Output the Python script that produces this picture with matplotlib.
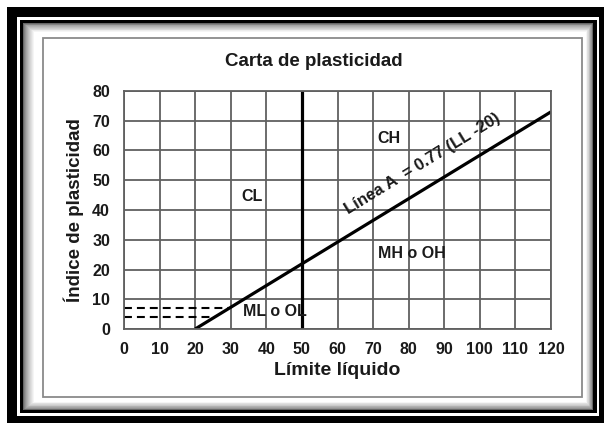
import matplotlib
matplotlib.use('Agg')
import matplotlib.pyplot as plt
import matplotlib.patches as mpatches
import numpy as np

# chart values
ll_ticks = list(range(0, 130, 10))
pi_ticks = list(range(0, 90, 10))
a_line_ll = [20, 120]
a_line_pi = [0, 73]
b_line_ll = [50, 50]
b_line_pi = [0, 80]
dash_pi = [4, 7]
zone_labels = ['CL', 'CH', 'MH o OH', 'ML o OL']
zone_ll = [36, 74.5, 81, 42.5]
zone_pi = [44.5, 64, 25.5, 6]

W, H = 604, 423
plt.rcParams['font.family'] = ['Liberation Sans', 'DejaVu Sans']
fig = plt.figure(figsize=(W / 100, H / 100), dpi=100)
fig.patch.set_facecolor('white')


def rect_px(x0, y0, x1, y1, **kw):
    # rectangle given in pixel coords (origin top-left)
    r = mpatches.Rectangle((x0 / W, 1 - y1 / H), (x1 - x0) / W, (y1 - y0) / H,
                           transform=fig.transFigure, zorder=-10, **kw)
    fig.patches.append(r)


# picture frame
rect_px(7, 7, 610, 430, facecolor='black', edgecolor='none')
rect_px(17, 17, 599, 416, facecolor='white', edgecolor='none')
rect_px(20, 20, 597, 413, facecolor='black', edgecolor='none')
n = 12
for i in range(n):
    t = i / (n - 1)
    g = 0.4 + 0.6 * t ** 0.7
    rect_px(23 + 11 * t, 23 + 9 * t, 593 - 7 * t, 410 - 8 * t,
            facecolor=(g, g, g), edgecolor='none')
rect_px(43, 38, 582, 397, facecolor='white', edgecolor='#8a8a8a', linewidth=1.3)

ax = fig.add_axes([124 / W, 1 - 329 / H, 427 / W, 238 / H])
ax.set_zorder(5)
ax.set_xlim(0, 120)
ax.set_ylim(0, 80)
ax.set_xticks(ll_ticks)
ax.set_yticks(pi_ticks)
ax.grid(True, color='#606060', linewidth=1.3)
ax.set_axisbelow(True)
for s in ax.spines.values():
    s.set_color('#606060')
    s.set_linewidth(1.3)
ax.tick_params(length=0, labelsize=11.5, colors='#1a1a1a')
ax.tick_params(axis='x', pad=9)
ax.tick_params(axis='y', pad=10)
for lab in ax.get_xticklabels() + ax.get_yticklabels():
    lab.set_fontweight('bold')

ax.plot(a_line_ll, a_line_pi, color='black', linewidth=2.3, solid_capstyle='butt')
ax.plot(b_line_ll, b_line_pi, color='black', linewidth=2.3, solid_capstyle='butt')
slope = (a_line_pi[1] - a_line_pi[0]) / (a_line_ll[1] - a_line_ll[0])
for pi in dash_pi:
    ll_end = a_line_ll[0] + pi / slope
    ax.plot([0, ll_end], [pi, pi], color='black', linewidth=1.5,
            linestyle=(0, (3.8, 2.4)))

for lab, x, y in zip(zone_labels, zone_ll, zone_pi):
    ax.text(x, y, lab, ha='center', va='center', fontsize=11.5,
            fontweight='bold', color='#1a1a1a')

ax.text(84, 55.5, 'Línea A  = 0.77 (LL -20)', ha='center', va='center',
        rotation=31.5, rotation_mode='anchor', fontsize=12,
        fontweight='bold', color='#1a1a1a')

fig.text(313.5 / W, 1 - 61 / H, 'Carta de plasticidad', ha='center', va='center',
         fontsize=13.5, fontweight='bold', color='#1a1a1a')
ax.set_xlabel('Límite líquido', fontsize=14, fontweight='bold', color='#1a1a1a',
              labelpad=4)
ax.set_ylabel('Índice de plasticidad', fontsize=13.5, fontweight='bold',
              color='#1a1a1a', labelpad=6)

fig.savefig('out.png', dpi=100)
